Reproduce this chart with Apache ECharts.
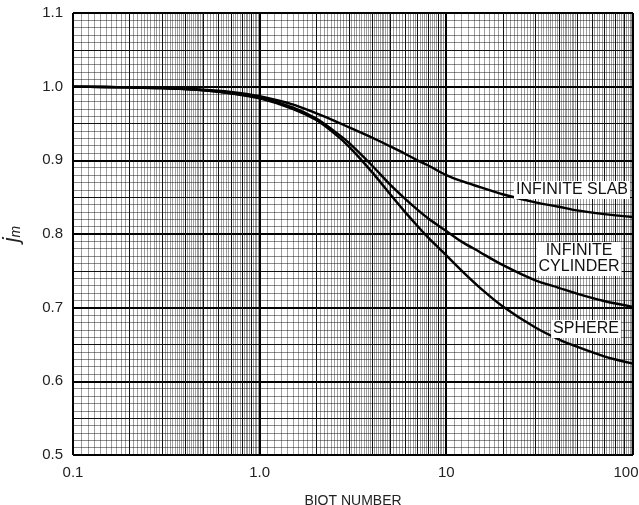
<!DOCTYPE html>
<html>
<head>
<meta charset="utf-8">
<script src="https://cdn.jsdelivr.net/npm/echarts@6/dist/echarts.min.js"></script>
<style>
html, body { margin: 0; padding: 0; background: #fff; }
#main { width: 639px; height: 505px; }
</style>
</head>
<body>
<div id="main"></div>
<script>
// Biot number (x) and mean temperature lag factor j_m (y)
var biot     = [0.1, 0.2, 0.3, 0.5, 0.7, 1, 1.5, 2, 2.5, 3, 4, 5, 6, 7, 8, 10, 12, 15, 20, 30, 40, 50, 70, 100];
var slab     = [1.000, 0.999, 0.998, 0.996, 0.993, 0.987, 0.976, 0.964, 0.954, 0.945, 0.931, 0.919, 0.909, 0.900, 0.893, 0.880, 0.872, 0.864, 0.854, 0.843, 0.837, 0.832, 0.827, 0.823];
var cylinder = [1.000, 0.999, 0.998, 0.995, 0.991, 0.985, 0.972, 0.957, 0.940, 0.924, 0.893, 0.867, 0.848, 0.833, 0.821, 0.804, 0.790, 0.776, 0.758, 0.737, 0.727, 0.719, 0.709, 0.701];
var sphere   = [1.000, 0.999, 0.998, 0.995, 0.991, 0.984, 0.970, 0.955, 0.937, 0.919, 0.884, 0.854, 0.830, 0.811, 0.795, 0.771, 0.751, 0.728, 0.702, 0.673, 0.657, 0.647, 0.634, 0.624];

var xTickLabels = { '0.1': '0.1', '1': '1.0', '10': '10', '100': '{r|100}' };
var yTickLabels = ['0.5', '0.6', '0.7', '0.8', '0.9', '1.0', '1.1'];
var decades = [0.1, 1, 10];

// log paper vertical rulings: 0 = fine, 1 = integer, 2 = decade
var xRulings = [];
decades.forEach(function (d) {
    xRulings.push([d, 2]);
    for (var k = 11; k < 100; k++) {
        if (k % 10 === 0) { xRulings.push([d * k / 10, 1]); continue; }
        if (k > 50 && k % 2 === 1) continue;   // coarser between 5 and 10
        xRulings.push([d * k / 10, 0]);
    }
});
xRulings.push([100, 2]);

function pair(xs, ys) {
    return xs.map(function (x, i) { return [x, ys[i]]; });
}

function renderRuling(params, api) {
    var v = api.value(0), kind = api.value(1);
    var p1 = api.coord([v, 0.5]), p2 = api.coord([v, 1.1]);
    var x = kind === 2 ? Math.round(p1[0]) : Math.round(p1[0]) + 0.5;
    var style = kind === 2 ? { stroke: '#000', lineWidth: 2 }
        : kind === 1 ? { stroke: '#111', lineWidth: 1 }
        : { stroke: 'rgba(0,0,0,0.38)', lineWidth: 1 };
    return { type: 'line', silent: true, shape: { x1: x, y1: p1[1], x2: x, y2: p2[1] }, style: style };
}

var chart = echarts.init(document.getElementById('main'), null, { renderer: 'canvas' });

var curveStyle = { color: '#000', width: 2.4 };
var font = 'Liberation Sans, Arial, sans-serif';

var option = {
    backgroundColor: '#fff',
    animation: false,
    textStyle: { fontFamily: font },
    grid: { left: 73, right: 6, top: 13, bottom: 50, containLabel: false, outerBoundsMode: 'none' },
    xAxis: {
        type: 'log',
        logBase: 10,
        min: 0.1,
        max: 100,
        name: 'BIOT NUMBER',
        nameLocation: 'middle',
        nameGap: 39,
        nameTextStyle: { color: '#222', fontSize: 14, fontFamily: font },
        axisLine: { show: false },
        axisTick: { show: false },
        splitLine: { show: false },
        axisLabel: {
            color: '#222', fontSize: 15, margin: 10, fontFamily: font,
            formatter: function (v) { return xTickLabels[String(+v.toPrecision(3))] || ''; },
            rich: { r: { color: '#222', fontSize: 15, fontFamily: font, padding: [0, 14, 0, 0] } }
        }
    },
    yAxis: [{
        type: 'value',
        min: 0.5,
        max: 1.1,
        interval: 0.05,
        name: '{a|j}{b|m}',
        nameLocation: 'middle',
        nameRotate: 90,
        nameGap: 50,
        nameTextStyle: {
            rich: {
                a: { fontSize: 22, fontStyle: 'italic', color: '#222', fontFamily: font },
                b: { fontSize: 14, fontStyle: 'italic', color: '#222', fontFamily: font, padding: [8, 0, 0, 0] }
            }
        },
        axisLine: { show: false },
        axisTick: { show: false },
        axisLabel: {
            color: '#222', fontSize: 15, margin: 10, fontFamily: font,
            formatter: function (v) {
                var s = v.toFixed(2);
                var t = v.toFixed(1);
                return (s === t + '0' && yTickLabels.indexOf(t) >= 0) ? t : '';
            }
        },
        splitLine: { show: true, lineStyle: { color: '#111', width: 1 } },
        minorTick: { show: false, splitNumber: 5 },
        minorSplitLine: { show: true, lineStyle: { color: 'rgba(0,0,0,0.45)', width: 1 } }
    }, {
        type: 'value',
        min: 0.5,
        max: 1.1,
        interval: 0.1,
        position: 'left',
        axisLine: { show: false },
        axisTick: { show: false },
        axisLabel: { show: false },
        splitLine: { show: true, lineStyle: { color: '#000', width: 2 } }
    }],
    series: [{
        type: 'custom',
        renderItem: renderRuling,
        data: xRulings,
        z: 1,
        silent: true,
        clip: false
    }, {
        name: 'INFINITE SLAB',
        type: 'line',
        data: pair(biot, slab),
        smooth: 0.3,
        symbol: 'none',
        lineStyle: curveStyle,
        z: 5
    }, {
        name: 'INFINITE CYLINDER',
        type: 'line',
        data: pair(biot, cylinder),
        smooth: 0.3,
        symbol: 'none',
        lineStyle: curveStyle,
        z: 5
    }, {
        name: 'SPHERE',
        type: 'line',
        data: pair(biot, sphere),
        smooth: 0.3,
        symbol: 'none',
        lineStyle: curveStyle,
        z: 5
    }],
    graphic: [{
        type: 'text', x: 572, y: 190, z: 100,
        style: {
            text: 'INFINITE SLAB', font: '16px ' + font, fill: '#111',
            align: 'center', verticalAlign: 'middle', backgroundColor: '#fff', padding: [1, 2, 1, 2]
        }
    }, {
        type: 'text', x: 579, y: 259, z: 100,
        style: {
            text: 'INFINITE\nCYLINDER', font: '16px ' + font, fill: '#111', lineHeight: 16,
            align: 'center', verticalAlign: 'middle', backgroundColor: '#fff', padding: [1, 2, 1, 2]
        }
    }, {
        type: 'text', x: 586, y: 329, z: 100,
        style: {
            text: 'SPHERE', font: '16px ' + font, fill: '#111',
            align: 'center', verticalAlign: 'middle', backgroundColor: '#fff', padding: [1, 2, 1, 2]
        }
    }]
};

chart.setOption(option);
</script>
</body>
</html>
